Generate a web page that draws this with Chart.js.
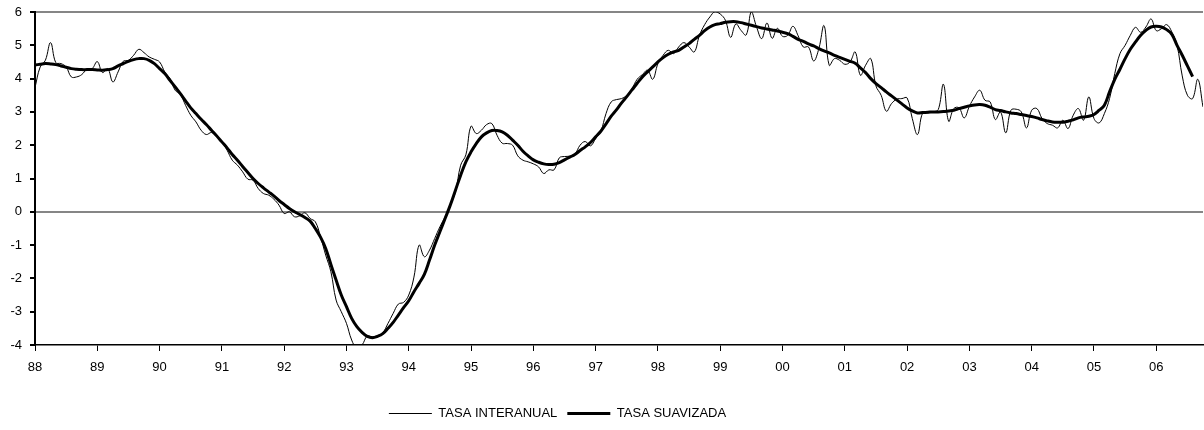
<!DOCTYPE html>
<html>
<head>
<meta charset="utf-8">
<script src="https://cdn.jsdelivr.net/npm/chart.js"></script>
<style>
  body { margin: 0; background: #fff; }
  #wrap { width: 1204px; height: 430px; }
</style>
</head>
<body>
<div id="wrap"><canvas id="grafico"></canvas></div>
<script>
// etiquetas de año (una por enero)
const yearLabels = ['88','89','90','91','92','93','94','95','96','97','98','99','00','01','02','03','04','05','06']

// datos mensuales desde ene-88
const tasaInteranual = [
  3.73, 4.35, 4.55, 5.08, 4.48, 4.45, 4.35, 4.05, 4.05, 4.12, 4.28, 4.3,
  4.51, 4.18, 4.3, 3.9, 4.2, 4.52, 4.55, 4.7, 4.88, 4.78, 4.65, 4.58,
  4.5, 4.2, 4.0, 3.65, 3.52, 3.2, 2.9, 2.7, 2.45, 2.32, 2.38, 2.25,
  2.1, 1.85, 1.55, 1.4, 1.2, 0.98, 0.95, 0.7, 0.55, 0.5, 0.38, 0.2,
  -0.05, 0.0, -0.15, -0.12, -0.03, -0.2, -0.3, -0.75, -1.3, -1.8, -2.65, -3.0,
  -3.35, -3.85, -4.1, -4.0, -3.73, -3.75, -3.72, -3.63, -3.35, -3.05, -2.77, -2.72,
  -2.5, -1.96, -1.0, -1.35, -1.15, -0.8, -0.45, -0.15, 0.2, 0.6, 1.4, 1.71,
  2.57, 2.35, 2.45, 2.62, 2.65, 2.3, 2.06, 2.05, 2.0, 1.68, 1.55, 1.5,
  1.44, 1.35, 1.15, 1.26, 1.26, 1.62, 1.66, 1.67, 1.73, 2.0, 2.11, 1.98,
  2.2, 2.42, 2.95, 3.3, 3.37, 3.4, 3.5, 3.7, 3.98, 4.12, 4.25, 3.98,
  4.45, 4.7, 4.85, 4.75, 4.95, 5.08, 4.95, 4.8, 5.3, 5.62, 5.85, 6.01,
  5.94, 5.75, 5.24, 5.64, 5.45, 5.31, 6.01, 5.55, 5.2, 5.67, 5.21, 5.51,
  5.27, 5.3, 5.57, 5.29, 4.95, 4.95, 4.53, 4.9, 5.59, 4.4, 4.6, 4.55,
  4.43, 4.5, 4.8, 4.1, 4.4, 4.6, 3.78, 3.5, 3.02, 3.25, 3.38, 3.4,
  3.42, 2.8, 2.32, 2.97, 2.97, 3.0, 3.07, 3.83, 2.72, 3.1, 3.12, 2.82,
  3.17, 3.45, 3.65, 3.35, 3.3, 2.77, 3.0, 2.37, 3.05, 3.08, 3.0, 2.52,
  3.05, 3.1, 2.8, 2.65, 2.6, 2.52, 2.75, 2.5, 2.9, 3.1, 2.75, 3.45,
  2.8, 2.67, 2.95, 3.4, 4.15, 4.75, 5.0, 5.3, 5.54, 5.39, 5.55, 5.79,
  5.44, 5.5, 5.62, 5.4, 5.0, 4.08, 3.5, 3.4, 3.98, 3.15
]

const tasaSuavizada = [
  4.41, 4.43, 4.45, 4.44, 4.42, 4.38, 4.34, 4.3, 4.28, 4.27, 4.27, 4.27,
  4.26, 4.25, 4.27, 4.3, 4.38, 4.45, 4.52, 4.57, 4.6, 4.6, 4.55, 4.45,
  4.3, 4.15, 3.95, 3.75, 3.55, 3.33, 3.12, 2.95, 2.78, 2.62, 2.45, 2.28,
  2.1, 1.92, 1.72, 1.55, 1.36, 1.18, 1.0, 0.85, 0.72, 0.6, 0.48, 0.34,
  0.22, 0.1, 0.0, -0.08, -0.17, -0.28, -0.5, -0.76, -1.1, -1.58, -2.05, -2.5,
  -2.85, -3.2, -3.45, -3.62, -3.74, -3.78, -3.74, -3.66, -3.5, -3.32, -3.1, -2.88,
  -2.67, -2.4, -2.15, -1.88, -1.45, -1.0, -0.6, -0.2, 0.2, 0.65, 1.1, 1.5,
  1.8, 2.05, 2.25, 2.37, 2.44, 2.44, 2.4, 2.3, 2.15, 2.0, 1.82, 1.68,
  1.56, 1.49, 1.44, 1.42, 1.43, 1.48, 1.56, 1.64, 1.72, 1.84, 1.95, 2.08,
  2.25, 2.42, 2.64, 2.87, 3.06, 3.27, 3.46, 3.66, 3.86, 4.05, 4.2, 4.35,
  4.5, 4.63, 4.73, 4.8, 4.85, 4.95, 5.05, 5.18, 5.3, 5.44, 5.55, 5.62,
  5.65, 5.69, 5.71, 5.71, 5.68, 5.64, 5.6, 5.56, 5.52, 5.49, 5.46, 5.43,
  5.39, 5.35, 5.27, 5.18, 5.12, 5.04, 4.98, 4.9, 4.83, 4.77, 4.7, 4.64,
  4.58, 4.52, 4.46, 4.32, 4.18, 4.0, 3.85, 3.73, 3.6, 3.48, 3.36, 3.24,
  3.12, 3.03, 2.97, 2.98, 2.99, 3.0, 3.0, 3.01, 3.03, 3.05, 3.1, 3.14,
  3.18, 3.21, 3.22, 3.2, 3.14, 3.07, 3.04, 3.0, 2.97, 2.95, 2.92, 2.89,
  2.86, 2.82, 2.77, 2.73, 2.7, 2.69, 2.69, 2.72, 2.76, 2.82, 2.85, 2.87,
  2.92, 3.05, 3.2, 3.6, 3.98, 4.28, 4.6, 4.88, 5.1, 5.3, 5.45, 5.55,
  5.57, 5.55, 5.47, 5.33, 5.0, 4.7, 4.38, 4.06
]

const months = tasaInteranual.map((v, i) => i)

Chart.defaults.font.family = '"Liberation Sans", Arial, sans-serif'
Chart.defaults.font.size = 13
Chart.defaults.color = '#000'

// la leyenda del original no está centrada, va algo a la izquierda
const legendShift = {
  id: 'legendShift',
  afterLayout(chart) {
    chart.legend.right -= 88
  }
}

new Chart(document.getElementById('grafico'), {
  type: 'line',
  data: {
    labels: months,
    datasets: [
      {
        label: 'TASA INTERANUAL',
        data: tasaInteranual,
        borderColor: '#000',
        borderWidth: 1,
        pointRadius: 0,
        tension: 0.4
      },
      {
        label: 'TASA SUAVIZADA',
        data: tasaSuavizada,
        borderColor: '#000',
        borderWidth: 3,
        pointRadius: 0,
        tension: 0.4
      }
    ]
  },
  options: {
    responsive: true,
    maintainAspectRatio: false,
    animation: false,
    layout: { padding: { top: 12, right: 1, left: 0, bottom: 0 } },
    scales: {
      x: {
        type: 'linear',
        min: 0,
        max: months.length - 1,
        afterBuildTicks: s => { s.ticks = s.ticks.filter(t => t.value % 12 === 0) },
        afterFit: s => { s.height = 52 },
        ticks: {
          stepSize: 12,
          autoSkip: false,
          maxRotation: 0,
          padding: 9,
          callback: v => yearLabels[v / 12]
        },
        grid: { drawOnChartArea: false, color: '#000', tickLength: 6 },
        border: { color: '#000', width: 1.5 }
      },
      y: {
        min: -4,
        max: 6,
        afterFit: s => {
          s.width = 35
          s.paddingTop = 0
          s.paddingBottom = 0
        },
        ticks: { stepSize: 1, padding: 8 },
        grid: {
          color: c => (c.tick.value === 0 || c.tick.value === 6) ? '#868686' : 'rgba(0,0,0,0)',
          lineWidth: 2,
          tickColor: '#000',
          tickLength: 5
        },
        border: { color: '#000', width: 2 }
      }
    },
    plugins: {
      legend: {
        position: 'bottom',
        labels: {
          usePointStyle: true,
          pointStyle: 'line',
          pointStyleWidth: 43,
          padding: 10
        }
      },
      tooltip: { enabled: false }
    }
  },
  plugins: [legendShift]
})
</script>
</body>
</html>
